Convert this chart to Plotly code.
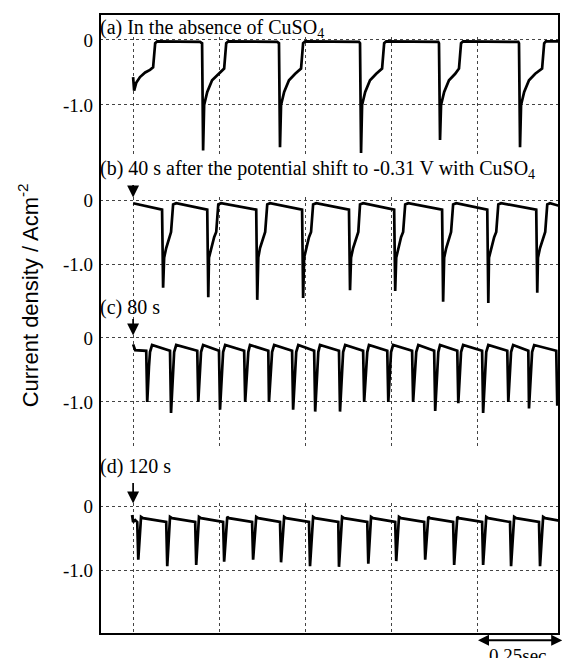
import plotly.graph_objects as go

# ---------------- data (time in ms, current density in A cm^-2) ----------------
a_t = [0, 3, 9, 20, 35, 49, 58, 64, 70, 133,
       194, 200, 203, 206, 215, 229, 247, 264, 270, 276,
       418, 423, 426, 429, 438, 452, 470, 487, 493, 499,
       655, 658, 661, 664, 673, 687, 705, 722, 728, 734,
       885, 887, 890, 893, 902, 916, 934, 945, 951, 957,
       1117, 1119, 1122, 1125, 1134, 1148, 1166, 1186, 1192, 1197,
       1235]
a_y = [-0.57, -0.78, -0.66, -0.57, -0.50, -0.46, -0.42, -0.05, -0.02, -0.02,
       -0.03, -0.05, -1.70, -1.00, -0.80, -0.62, -0.52, -0.44, -0.05, -0.02,
       -0.03, -0.05, -1.65, -1.00, -0.80, -0.62, -0.52, -0.44, -0.05, -0.02,
       -0.03, -0.05, -1.74, -1.00, -0.80, -0.62, -0.52, -0.44, -0.05, -0.02,
       -0.03, -0.05, -1.54, -1.00, -0.80, -0.62, -0.52, -0.44, -0.05, -0.02,
       -0.03, -0.05, -1.65, -1.00, -0.80, -0.62, -0.52, -0.44, -0.05, -0.02,
       -0.02]

b_t = [0, 41,
       84, 87, 90, 96, 104, 110, 116, 125,
       215, 218, 220, 226, 235, 241, 247, 255,
       357, 360, 363, 368, 377, 383, 389, 397,
       490, 493, 496, 502, 510, 516, 522, 531,
       626, 629, 632, 638, 647, 653, 658, 667,
       757, 760, 763, 769, 777, 783, 789, 798,
       896, 899, 902, 908, 916, 922, 928, 937,
       1027, 1030, 1032, 1038, 1047, 1053, 1059, 1067,
       1169, 1172, 1174, 1180, 1189, 1195, 1201, 1209,
       1235]
b_y = [-0.05, -0.10,
       -0.15, -1.37, -0.90, -0.75, -0.58, -0.50, -0.07, -0.05,
       -0.15, -1.52, -0.90, -0.75, -0.58, -0.50, -0.07, -0.05,
       -0.15, -1.56, -0.90, -0.75, -0.58, -0.50, -0.07, -0.05,
       -0.15, -1.53, -0.90, -0.75, -0.58, -0.50, -0.07, -0.05,
       -0.15, -1.41, -0.90, -0.75, -0.58, -0.50, -0.07, -0.05,
       -0.15, -1.42, -0.90, -0.75, -0.58, -0.50, -0.07, -0.05,
       -0.15, -1.59, -0.90, -0.75, -0.58, -0.50, -0.07, -0.05,
       -0.15, -1.61, -0.90, -0.75, -0.58, -0.50, -0.07, -0.05,
       -0.15, -1.45, -0.90, -0.75, -0.58, -0.50, -0.07, -0.05,
       -0.09]

c_t = [0, 6,
       38, 41, 46, 49, 55,
       107, 110, 116, 119, 125,
       186, 189, 194, 197, 203,
       249, 252, 258, 261, 267,
       322, 325, 331, 334, 339,
       392, 394, 400, 403, 409,
       461, 464, 470, 473, 479,
       525, 528, 534, 537, 542,
       597, 600, 606, 609, 615,
       667, 670, 676, 679, 684,
       737, 740, 745, 748, 754,
       809, 812, 818, 821, 827,
       873, 876, 882, 885, 890,
       940, 943, 948, 951, 957,
       1012, 1015, 1021, 1024, 1030,
       1085, 1088, 1093, 1096, 1102,
       1146, 1148, 1154, 1157, 1163,
       1227, 1230]
c_y = [-0.10, -0.19,
       -0.20, -1.00, -0.45, -0.22, -0.11,
       -0.20, -1.17, -0.45, -0.22, -0.11,
       -0.20, -1.00, -0.45, -0.22, -0.11,
       -0.20, -1.12, -0.45, -0.22, -0.11,
       -0.20, -1.00, -0.45, -0.22, -0.11,
       -0.20, -1.00, -0.45, -0.22, -0.11,
       -0.20, -1.12, -0.45, -0.22, -0.11,
       -0.20, -1.15, -0.45, -0.22, -0.11,
       -0.20, -1.15, -0.45, -0.22, -0.11,
       -0.20, -1.00, -0.45, -0.22, -0.11,
       -0.20, -1.00, -0.45, -0.22, -0.11,
       -0.20, -1.00, -0.45, -0.22, -0.11,
       -0.20, -1.14, -0.45, -0.22, -0.11,
       -0.20, -1.02, -0.45, -0.22, -0.11,
       -0.20, -1.17, -0.45, -0.22, -0.11,
       -0.20, -1.00, -0.45, -0.22, -0.11,
       -0.20, -1.10, -0.45, -0.22, -0.11,
       -0.20, -1.06]

d_t = [-3, 0, 6,
       12, 15, 20, 23, 29,
       96, 99, 104, 107, 113,
       180, 183, 189, 191, 197,
       261, 264, 270, 273, 278,
       345, 348, 354, 357, 363,
       426, 429, 435, 438, 444,
       510, 513, 519, 522, 528,
       595, 597, 603, 606, 612,
       679, 682, 687, 690, 696,
       760, 763, 769, 771, 777,
       844, 847, 853, 856, 861,
       928, 931, 937, 940, 945,
       1012, 1015, 1021, 1024, 1030,
       1093, 1096, 1102, 1105, 1111,
       1177, 1180, 1186, 1189, 1195,
       1235]
d_y = [-0.14, -0.25, -0.22,
       -0.25, -0.84, -0.30, -0.17, -0.19,
       -0.25, -0.94, -0.30, -0.17, -0.19,
       -0.25, -0.92, -0.30, -0.17, -0.19,
       -0.25, -0.87, -0.30, -0.17, -0.19,
       -0.25, -0.84, -0.30, -0.17, -0.19,
       -0.25, -0.88, -0.30, -0.17, -0.19,
       -0.25, -0.94, -0.30, -0.17, -0.19,
       -0.25, -0.95, -0.30, -0.17, -0.19,
       -0.25, -0.90, -0.30, -0.17, -0.19,
       -0.25, -0.86, -0.30, -0.17, -0.19,
       -0.25, -0.84, -0.30, -0.17, -0.19,
       -0.25, -0.92, -0.30, -0.17, -0.19,
       -0.25, -0.92, -0.30, -0.17, -0.19,
       -0.25, -0.94, -0.30, -0.17, -0.19,
       -0.25, -0.94, -0.30, -0.17, -0.19,
       -0.23]

panel_titles = ["(a) In the absence of CuSO<sub>4</sub>",
                "(b) 40 s after the potential shift to -0.31 V with CuSO<sub>4</sub>",
                "(c) 80 s",
                "(d) 120 s"]
y_tick_vals = [0, -1]
y_tick_text = ["0", "-1.0"]
y_title = "Current density / Acm<sup>-2</sup>"
scale_text = "0.25sec"
scale_bar = [1000, 1250]   # ms

# ---------------- layout geometry ----------------
W, H = 562, 658
ML, MR, MT, MB = 100, 3, 14, 24
x_range = [-96, 1235]
px_per_ms = (W - ML - MR) / (x_range[1] - x_range[0])
y_domains = [[0.7710, 0.9629], [0.4919, 0.7048], [0.3032, 0.4823], [0.0, 0.2113]]
y_ranges = [[-1.785, 0.046], [-2.016, 0.047], [-1.688, 0.047], [-2.0, 0.047]]
title_y = [0.9774, 0.7484, 0.5274, 0.2694]

serif = "Liberation Serif"
fig = go.Figure()
series = [(a_t, a_y), (b_t, b_y), (c_t, c_y), (d_t, d_y)]
for i, (t, y) in enumerate(series):
    s = "" if i == 0 else str(i + 1)
    fig.add_trace(go.Scatter(x=t, y=y, mode="lines", xaxis="x" + s, yaxis="y" + s,
                             line=dict(color="black", width=2.7), showlegend=False,
                             hoverinfo="skip"))

layout = dict(width=W, height=H, margin=dict(l=ML, r=MR, t=MT, b=MB),
              paper_bgcolor="white", plot_bgcolor="white", showlegend=False)
for i in range(4):
    s = "" if i == 0 else str(i + 1)
    layout["xaxis" + s] = dict(domain=[0, 1], anchor="y" + s, range=x_range,
                               tick0=0, dtick=250, showgrid=True, griddash="dot",
                               gridcolor="#444", gridwidth=1, zeroline=False,
                               showticklabels=False, ticks="", showline=False,
                               automargin=False,
                               matches=None if i == 0 else "x")
    layout["yaxis" + s] = dict(domain=y_domains[i], anchor="x" + s, range=y_ranges[i],
                               tickvals=y_tick_vals, ticktext=y_tick_text,
                               showgrid=True, griddash="dot", gridcolor="#444",
                               gridwidth=1, zeroline=False, showline=False, ticks="",
                               ticklabelstandoff=6, automargin=False,
                               tickfont=dict(family=serif, size=19, color="black"))
fig.update_layout(**layout)

# frame
fig.add_shape(type="rect", xref="paper", yref="paper", x0=0, x1=1, y0=0, y1=1,
              line=dict(color="black", width=2), layer="above")

anns = []
for i, txt in enumerate(panel_titles):
    anns.append(dict(text=txt, xref="paper", yref="paper", x=0, y=title_y[i],
                     xanchor="left", yanchor="middle", showarrow=False, xshift=-2,
                     font=dict(family=serif, size=20, color="black"),
                     bgcolor="rgba(0,0,0,0)"))
# arrows marking the potential shift (head just above the zero line)
arrow_spec = [(2, 0.04, -14), (3, 0.04, -18), (4, 0.04, -22)]
for k, yv, ay in arrow_spec:
    anns.append(dict(text="", xref="x%d" % k, yref="y%d" % k, x=0, y=yv,
                     showarrow=True, ax=0, ay=ay, arrowhead=2, arrowsize=1.4,
                     arrowwidth=1.7, arrowcolor="black"))
# 0.25 s scale bar below the frame (double-headed arrow)
bar_end = x_range[1] - 1
anns.append(dict(text="", xref="x4", yref="y4", x=bar_end, y=y_ranges[3][0] + 0.01,
                 ax=-(bar_end - scale_bar[0]) * px_per_ms - 5, ay=0,
                 xshift=(scale_bar[1] - bar_end) * px_per_ms - 2, yshift=-7,
                 showarrow=True, arrowside="end+start", arrowhead=2, arrowsize=1.1,
                 arrowwidth=2, arrowcolor="black"))
anns.append(dict(text=scale_text, xref="x4", yref="paper",
                 x=(scale_bar[0] + scale_bar[1]) / 2 - 9, y=-0.034,
                 xanchor="center", yanchor="middle", showarrow=False,
                 font=dict(family=serif, size=19, color="black")))
# y-axis title
anns.append(dict(text=y_title, xref="paper", yref="paper", x=-0.155, y=0.546,
                 xanchor="center", yanchor="middle", textangle=-90, showarrow=False,
                 font=dict(family="Liberation Sans", size=22, color="black")))
fig.update_layout(annotations=anns)

fig.write_html("out.html")
